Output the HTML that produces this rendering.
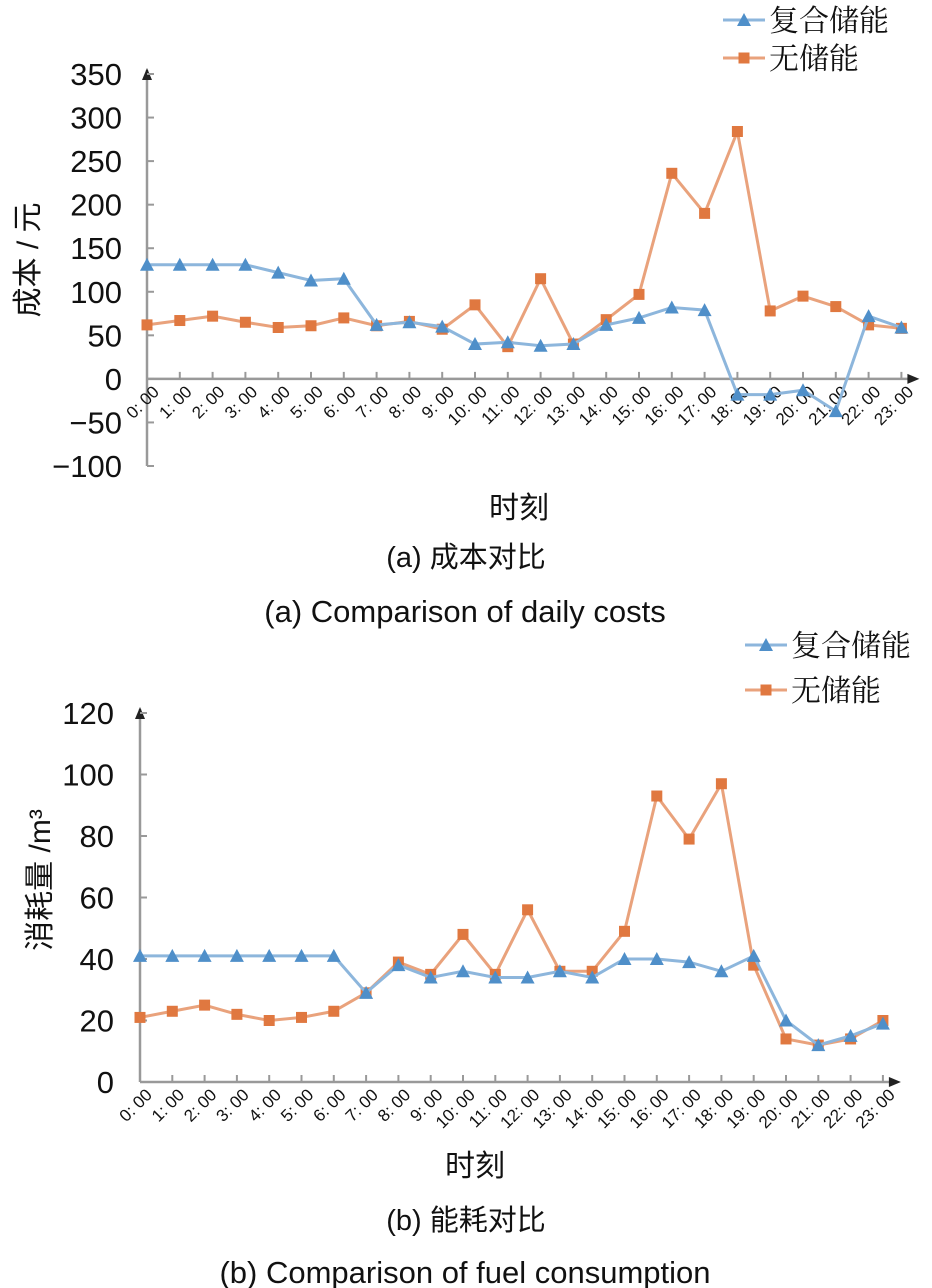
<!DOCTYPE html>
<html><head><meta charset="utf-8"><style>
body{margin:0;background:#fff}
svg{display:block}
text{font-family:"Liberation Sans","Noto Sans CJK SC",sans-serif;fill:#111}
.cjk{font-family:"Liberation Serif","Noto Serif CJK SC",serif}
</style></head><body>
<svg id="s" width="932" height="1288" viewBox="0 0 932 1288" xmlns="http://www.w3.org/2000/svg"></svg>
<script>
const hours = ["0: 00","1: 00","2: 00","3: 00","4: 00","5: 00","6: 00","7: 00","8: 00","9: 00","10: 00","11: 00","12: 00","13: 00","14: 00","15: 00","16: 00","17: 00","18: 00","19: 00","20: 00","21: 00","22: 00","23: 00"];
const costHybrid = [131,131,131,131,122,113,115,62,65,60,40,42,38,40,62,70,82,79,-18,-18,-13,-37,72,59];
const costNone = [62,67,72,65,59,61,70,61,66,57,85,37,115,40,68,97,236,190,284,78,95,83,62,58];
const costTicks = [-100,-50,0,50,100,150,200,250,300,350];
const fuelHybrid = [41,41,41,41,41,41,41,29,38,34,36,34,34,36,34,40,40,39,36,41,20,12,15,19];
const fuelNone = [21,23,25,22,20,21,23,29,39,35,48,35,56,36,36,49,93,79,97,38,14,12,14,20];
const fuelTicks = [0,20,40,60,80,100,120];
const seriesNames = ["复合储能","无储能"];

const NS="http://www.w3.org/2000/svg", svg=document.getElementById('s');
function mk(tag,attrs,parent,txt){const e=document.createElementNS(NS,tag);for(const k in attrs)e.setAttribute(k,attrs[k]);if(txt!==undefined)e.textContent=txt;(parent||svg).appendChild(e);return e;}
const BLUE="#4f8fc9", BLUEL="#8db6dc", ORG="#e07840", ORGL="#e9a27c";

function chart(o){
  const g=mk('g',{});
  
  
  const y=v=>o.y0-(v-o.vmin)/(o.vmax-o.vmin)*(o.y0-o.y1);
  const x=i=>o.x0+i*o.dx;
  const yz=y(o.base);
  const ya=mk('line',{x1:o.x0,y1:y(o.vmin),x2:o.x0,y2:o.y1-4,stroke:'#999','stroke-width':2.5},g);
  
  mk('path',{d:`M${o.x0-5},${o.y1+6} L${o.x0},${o.y1-6} L${o.x0+5},${o.y1+6}Z`,fill:'#222'},g);
  o.ticks.forEach(t=>{
    mk('line',{x1:o.x0,y1:y(t),x2:o.x0+7,y2:y(t),stroke:'#999','stroke-width':2},g);
    const tl=mk('text',{x:o.tx,y:y(t)+11,'text-anchor':'end','font-size':31},g,t<0?'−'+(-t):String(t));
    
  });
  const xe=x(23)+10;
  const xa=mk('line',{x1:o.x0,y1:yz,x2:xe,y2:yz,stroke:'#999','stroke-width':2.5},g);
  
  mk('path',{d:`M${xe-4},${yz-5} L${xe+8},${yz} L${xe-4},${yz+5}Z`,fill:'#222'},g);
  hours.forEach((h,i)=>{
    if(i>0)mk('line',{x1:x(i),y1:yz,x2:x(i),y2:yz-7,stroke:'#999','stroke-width':2},g);
    const tl=mk('text',{x:0,y:0,'text-anchor':'end','font-size':17,transform:`translate(${x(i)+13},${yz+14}) rotate(-45)`},g,h);
    
  });
  function series(vals,col,lcol,tri,nm){
    const p=mk('polyline',{points:vals.map((v,i)=>x(i)+','+y(v)).join(' '),fill:'none',stroke:lcol,'stroke-width':3},g);
    
    vals.forEach((v,i)=>{
      const cx=x(i),cy=y(v);
      const m=tri?mk('path',{d:`M${cx-7},${cy+6} L${cx},${cy-7} L${cx+7},${cy+6}Z`,fill:col},g)
                 :mk('rect',{x:cx-5.5,y:cy-5.5,width:11,height:11,fill:col},g);
      
    });
  }
  series(o.none,ORG,ORGL,false,'no-storage');
  series(o.hyb,BLUE,BLUEL,true,'hybrid-storage');
  [[BLUE,BLUEL,true],[ORG,ORGL,false]].forEach((c,k)=>{
    const ly=o.ly+k*o.lgap, lx=o.lx;
    const lg=mk('g',{},g);
    
    mk('line',{x1:lx,y1:ly,x2:lx+42,y2:ly,stroke:c[1],'stroke-width':3},lg);
    if(c[2])mk('path',{d:`M${lx+14},${ly+6} L${lx+21},${ly-7} L${lx+28},${ly+6}Z`,fill:c[0]},lg);
    else mk('rect',{x:lx+15.5,y:ly-5.5,width:11,height:11,fill:c[0]},lg);
    mk('text',{x:lx+46,y:ly+11,'font-size':30,class:'cjk'},lg,seriesNames[k]);
  });
  const yt=mk('text',{x:0,y:0,'text-anchor':'middle','font-size':30,transform:`translate(${o.ytx},${o.yty}) rotate(-90)`},g,o.ytitle);
  
  const xt=mk('text',{x:o.xtx,y:o.xty,'text-anchor':'middle','font-size':30},g,'时刻');
  
  const c1=mk('text',{x:466,y:o.c1y,'text-anchor':'middle','font-size':29},g,o.cap1);
  
  const c2=mk('text',{x:465,y:o.c2y,'text-anchor':'middle','font-size':31},g,o.cap2);
  
}
chart({name:'cost-chart',x0:147,dx:32.8,y0:466,y1:74,vmin:-100,vmax:350,base:0,ticks:costTicks,tx:122,
  hyb:costHybrid,none:costNone,lx:723,ly:20,lgap:38,ytitle:'成本 / 元',ytx:38,yty:260,xtx:519,xty:518,
  c1y:567,cap1:'(a) 成本对比',c2y:622,cap2:'(a) Comparison of daily costs'});
chart({name:'fuel-chart',x0:140,dx:32.3,y0:1082,y1:713,vmin:0,vmax:120,base:0,ticks:fuelTicks,tx:114,
  hyb:fuelHybrid,none:fuelNone,lx:745,ly:645,lgap:45,ytitle:'消耗量 /m³',ytx:50,yty:880,xtx:475,xty:1176,
  c1y:1230,cap1:'(b) 能耗对比',c2y:1283,cap2:'(b) Comparison of fuel consumption'});
</script>
</body></html>
